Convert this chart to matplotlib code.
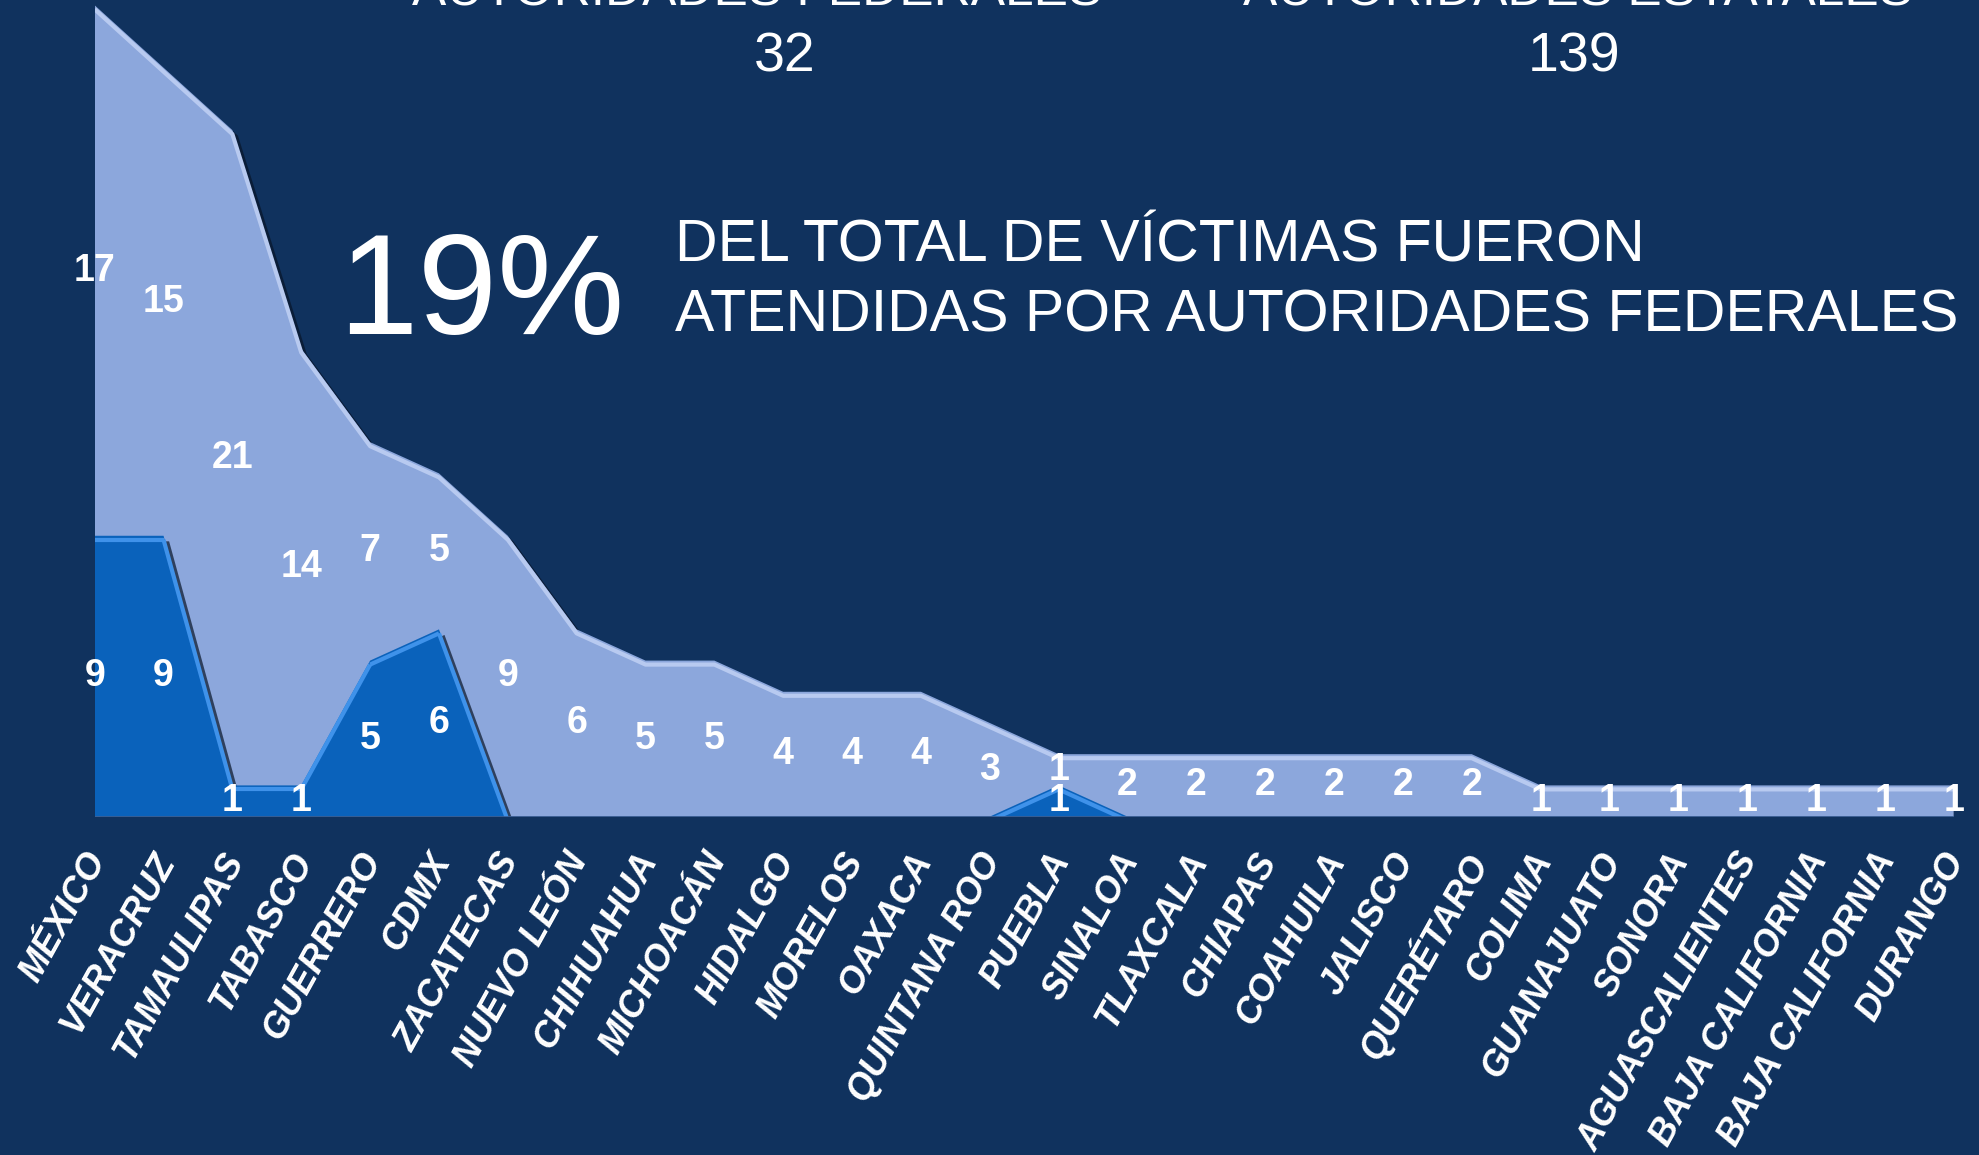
import matplotlib
matplotlib.use("Agg")
import matplotlib.pyplot as plt
import matplotlib.patheffects as pe
import matplotlib.transforms as mtransforms
import numpy as np

plt.rcParams['font.family'] = ['Liberation Sans', 'DejaVu Sans']

states = ["MÉXICO", "VERACRUZ", "TAMAULIPAS", "TABASCO", "GUERRERO", "CDMX",
          "ZACATECAS", "NUEVO LEÓN", "CHIHUAHUA", "MICHOACÁN", "HIDALGO",
          "MORELOS", "OAXACA", "QUINTANA ROO", "PUEBLA", "SINALOA", "TLAXCALA",
          "CHIAPAS", "COAHUILA", "JALISCO", "QUERÉTARO", "COLIMA", "GUANAJUATO",
          "SONORA", "AGUASCALIENTES", "BAJA CALIFORNIA", "BAJA CALIFORNIA",
          "DURANGO"]
federal = [9, 9, 1, 1, 5, 6, 0, 0, 0, 0, 0, 0, 0, 0, 1, 0, 0, 0, 0, 0, 0,
           0, 0, 0, 0, 0, 0, 0]
estatal = [17, 15, 21, 14, 7, 5, 9, 6, 5, 5, 4, 4, 4, 3, 1, 2, 2, 2, 2, 2, 2,
           1, 1, 1, 1, 1, 1, 1]
total_federal = 32
total_estatal = 139
pct_federal = "19%"

BG = '#10325e'
LIGHT = '#8ca7dc'
LIGHT_HI = '#b8caf0'
DARK = '#0a62bb'
DARK_HI = '#3f92ea'

W, H = 1979, 1155
fig = plt.figure(figsize=(W / 100, H / 100), dpi=100, facecolor=BG)

x0_px, x1_px, base_px = 94.7, 1953.7, 816.6
ax = fig.add_axes([x0_px / W, 1 - base_px / H, (x1_px - x0_px) / W, base_px / H])
ax.set_facecolor(BG)
ax.patch.set_alpha(0)
for s in ax.spines.values():
    s.set_visible(False)
ax.set_xticks([])
ax.set_yticks([])

x = np.arange(len(states))
fed = np.array(federal, dtype=float)
est = np.array(estatal, dtype=float)
tot = fed + est

ax.set_xlim(0, len(states) - 1)
ax.set_ylim(0, 26.17)

shadow = [pe.SimplePatchShadow(offset=(4, -4), shadow_rgbFace='#081528', alpha=0.7), pe.Normal()]

light = ax.fill_between(x, 0, tot, color=LIGHT, lw=0, zorder=2)
light.set_path_effects(shadow)
hi_off = mtransforms.offset_copy(ax.transData, fig=fig, x=0, y=-4, units='dots')
ax.plot(x, tot, color=LIGHT_HI, lw=3, transform=hi_off, zorder=3, solid_capstyle='butt')

dark = ax.fill_between(x, 0, fed, color=DARK, lw=0, zorder=4)
dark.set_path_effects(shadow)
for i in range(len(x) - 1):
    if fed[i] > 0 or fed[i + 1] > 0:
        ax.plot(x[i:i + 2], fed[i:i + 2], color=DARK_HI, lw=3, transform=hi_off,
                zorder=5, solid_capstyle='butt')
ax.plot([x[0], x[-1]], [0, 0], color='#3a5f95', lw=2, zorder=6)

# value labels
for i in range(len(x)):
    ax.text(x[i], fed[i] + est[i] / 2, str(estatal[i]), color='white',
            fontsize=27, fontweight='bold', ha='center', va='center', zorder=7)
    if federal[i] > 0:
        ax.text(x[i], fed[i] / 2, str(federal[i]), color='white',
                fontsize=27, fontweight='bold', ha='center', va='center', zorder=7)

# category labels
lab_tr = mtransforms.offset_copy(ax.get_xaxis_transform(), fig=fig, x=-12, y=-30, units='dots')
for i, name in enumerate(states):
    ax.text(x[i], 0, name, transform=lab_tr, rotation=61, rotation_mode='anchor',
            ha='right', va='top', color='white', fontsize=26, fontweight='bold',
            fontstyle='italic')

# headline text
fig.text(338 / W, 1 - 334 / H, pct_federal, color='white', fontsize=103,
         ha='left', va='baseline')
fig.text(675 / W, 1 - 261 / H, "DEL TOTAL DE VÍCTIMAS FUERON", color='white',
         fontsize=42.5, ha='left', va='baseline')
fig.text(675 / W, 1 - 331 / H, "ATENDIDAS POR AUTORIDADES FEDERALES", color='white',
         fontsize=42.5, ha='left', va='baseline')

fig.text(757 / W, 1 - 5 / H, "AUTORIDADES FEDERALES", color='white', fontsize=37,
         ha='center', va='baseline')
fig.text(1578 / W, 1 - 5 / H, "AUTORIDADES ESTATALES", color='white', fontsize=37,
         ha='center', va='baseline')
fig.text(785 / W, 1 - 71 / H, str(total_federal), color='white', fontsize=40,
         ha='center', va='baseline')
fig.text(1574 / W, 1 - 71 / H, str(total_estatal), color='white', fontsize=40,
         ha='center', va='baseline')

fig.savefig("out.png", dpi=100, facecolor=BG)
